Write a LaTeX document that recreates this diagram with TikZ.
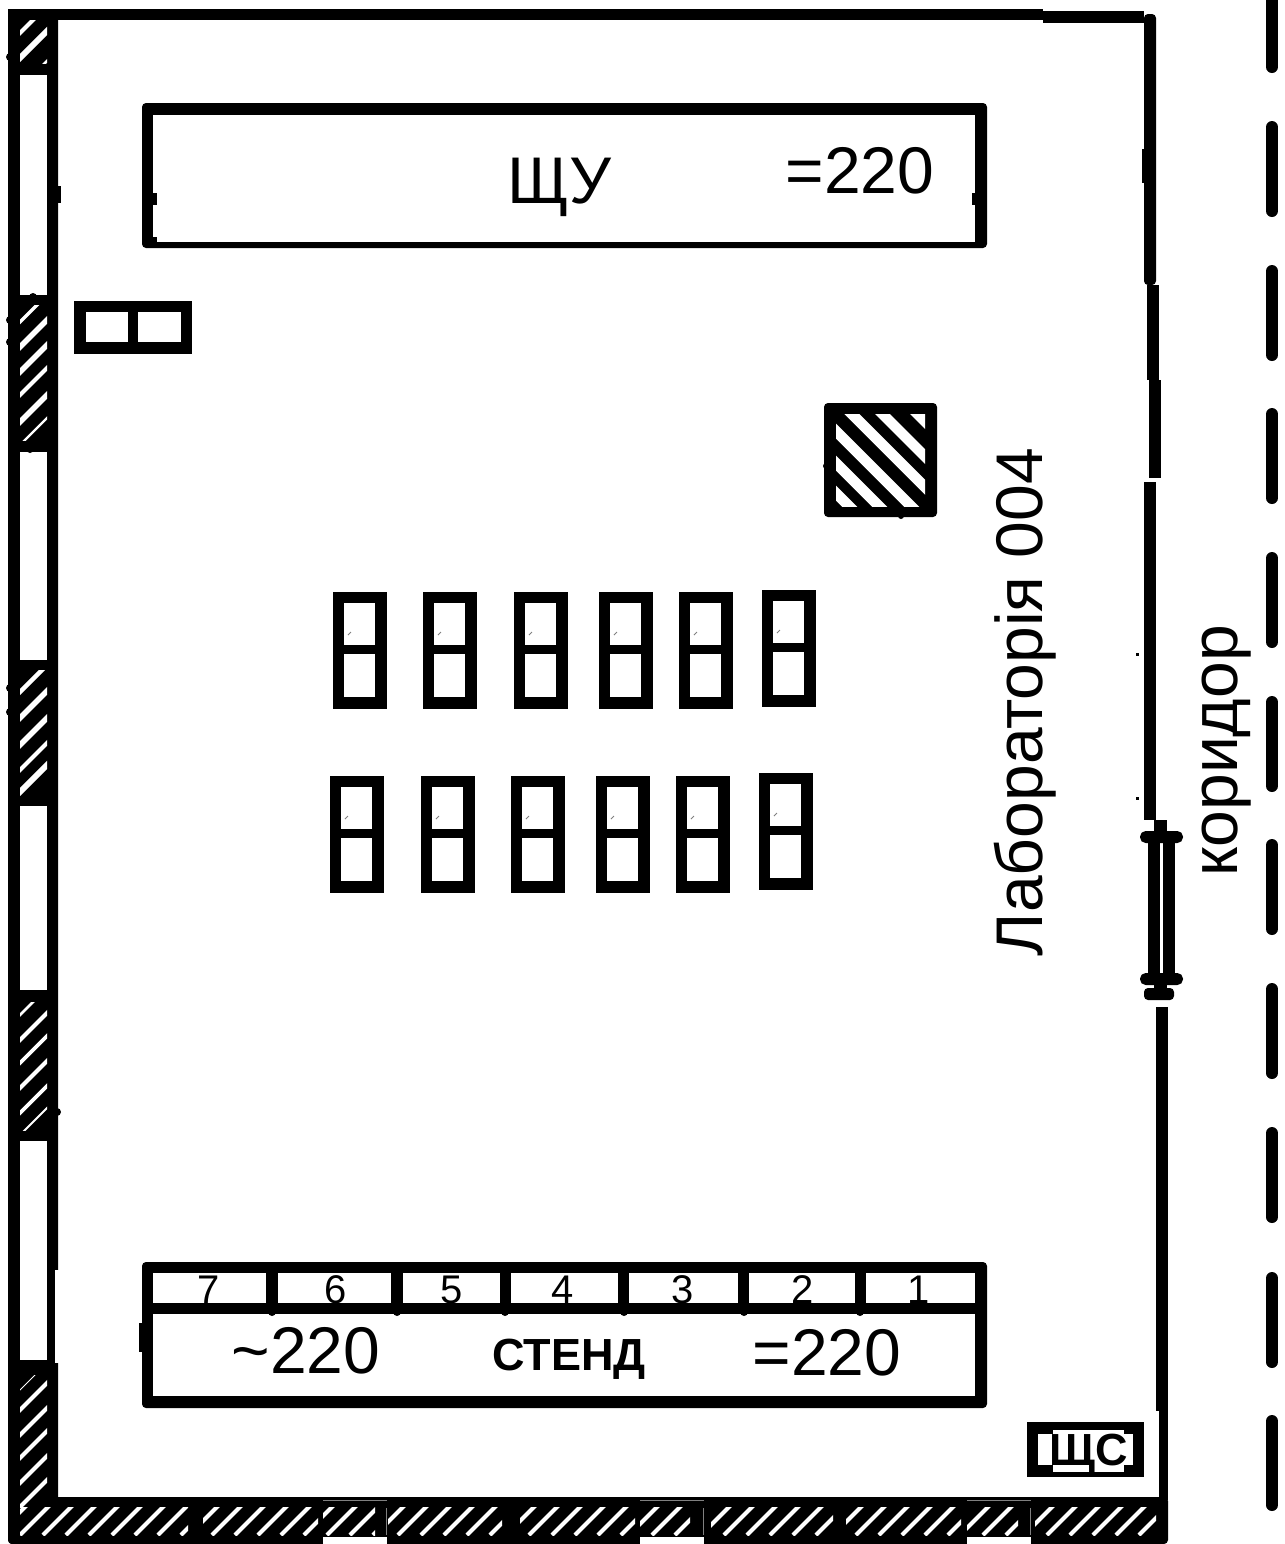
\documentclass[tikz,border=0pt]{standalone}
\usepackage{fontspec}
\setmainfont{Liberation Sans}
\newcommand{\wallhatch}[3]{%
  \begin{scope}
    \clip (20,#1) rectangle (47,#2);
    \foreach \s/\w in {#3} \draw[white, line width=\w pt] (0,\s) -- (80,\s-80);
  \end{scope}}
\newcommand{\floorhatch}[3]{%
  \begin{scope}
    \clip (#1,1507) rectangle (#2,1535);
    \foreach \n in {0,...,8} \draw[white, line width=2pt] (#3+23*\n,1535) -- (#3+23*\n+40,1495);
  \end{scope}}
\begin{document}
\begin{tikzpicture}[x=0.5pt,y=-0.5pt]
  \tikzstyle{solid} = [fill=black, rounded corners=2pt]
  \tikzstyle{gap} = [fill=white]
  \tikzstyle{big} = [inner sep=0pt, anchor=base, font=\fontsize{33}{33}\selectfont]
  \tikzstyle{cellnum} = [inner sep=0pt, anchor=base, font=\fontsize{20}{20}\selectfont]
  \tikzstyle{bold} = [inner sep=0pt, anchor=base, font=\bfseries\fontsize{22.5}{22.5}\selectfont]
  \useasboundingbox (0,0) rectangle (1285,1544);

  % outer walls
  \fill[solid] (8,9) rectangle (58,1544);
  \fill (8,9) rectangle (1043,20);
  \fill (1043,11) rectangle (1144,23);
  \fill[solid] (1144,14) rectangle (1156,285);
  \fill (1142,149) rectangle (1145,183);
  \fill (1147,285) rectangle (1159,380);
  \fill (1149,380) rectangle (1161,478);
  \fill (1144,482) rectangle (1156,820);
  \fill (1156,1007) rectangle (1168,1411);
  \fill (1159,1411) rectangle (1168,1500);
  \fill[solid] (8,1497) rectangle (1168,1544);

  % windows on the left
  \fill[gap] (20,75) rectangle (47,295);
  \fill[gap] (20,452) rectangle (47,660);
  \fill[gap] (20,806) rectangle (47,990);
  \fill[gap] (20,1141) rectangle (47,1360);
  \fill[gap] (55,1270) rectangle (59,1363);
  \fill (58,186) rectangle (61,203);
  \foreach \bx/\by in {10/57,10/320,10/342,33/297,30/449,10/688,10/712,57/1112}
    \fill (\bx,\by) circle (4);

  % left wall hatching
  \wallhatch{20}{63}{53/2,78/2.9,108/1.3}
  \wallhatch{305}{440}{342/1.6,367/2.7,392/2.7,415/2,442/2.7,465/1.1}
  \wallhatch{670}{795}{712/2.2,738/2.7,765/2.7,790/2,812/2.9}
  \wallhatch{1002}{1130}{1035/1.3,1060/2,1083/1.8,1108/2,1133/1.8,1155/0.9}
  \wallhatch{1375}{1507}{1410/0.4,1430/2,1455/2,1478/2,1503/2,1527/2}

  % floor hatching
  \floorhatch{20}{188}{-3}
  \floorhatch{203}{318}{189}
  \floorhatch{323}{375}{304}
  \floorhatch{388}{502}{375}
  \floorhatch{520}{635}{506}
  \floorhatch{640}{690}{629}
  \floorhatch{711}{833}{701}
  \floorhatch{846}{961}{833}
  \floorhatch{967}{1018}{960}
  \floorhatch{1035}{1156}{1024}
  \foreach \wx in {323,640,967} {
    \fill[gap] (\wx,1537) rectangle (\wx+64,1544);
    \draw[gray, line width=0.4pt] (\wx,1500) -- (\wx+64,1500);
    \draw[gray, line width=0.4pt] (\wx+63,1508) -- (\wx+63,1535);
  }

  % door
  \fill (1154,820) rectangle (1167,832);
  \fill[rounded corners=2.8pt] (1140,831) rectangle (1183,843);
  \fill (1148,843) rectangle (1160,973);
  \fill (1163,843) rectangle (1175,973);
  \fill[rounded corners=2.8pt] (1140,973) rectangle (1183,985);
  \fill (1154,985) rectangle (1167,988);
  \fill[solid] (1144,988) rectangle (1174,1000);
  \fill (1135.5,652.5) rectangle (1138.5,655.5);
  \fill (1135.5,796.5) rectangle (1138.5,799.5);

  % corridor line
  \draw[line width=6pt, line cap=round] (1272,-20) -- (1272,67);
  \foreach \dy in {127,271,414,558,702,845,989,1133,1278,1421}
    \draw[line width=6pt, line cap=round] (1272,\dy) -- (1272,\dy+84);

  % top panel
  \fill[solid] (142,103) rectangle (987,248);
  \fill[gap] (153,115) rectangle (975,242);
  \fill (153,193) rectangle (157,205);
  \fill (972,193) rectangle (975,205);
  \fill (153,237) rectangle (157,242);
  \node[big] (shu) at (559,203) {ЩУ};
  \node[big] (shuv) at (860,193) {=220};

  % small panel
  \fill (74,301) rectangle (192,354);
  \fill[gap] (86,312) rectangle (128,342);
  \fill[gap] (138,312) rectangle (181,342);

  % hatched box
  \fill[solid] (824,403) rectangle (937,517);
  \begin{scope}
    \clip (836,414) rectangle (925,506);
    \foreach \c in {-503.5,-468.5,-438,-405,-373,-343}
      \draw[white, line width=5.3pt] (800,800+\c) -- (960,960+\c);
  \end{scope}
  \fill (826,466) circle (3);
  \fill (901,516) circle (3);

  % desks
  \foreach \dx/\dy in {333/592,423/592,514/592,599/592,679/592,762/590,
                       330/776,421/776,511/776,596/776,676/776,759/773} {
    \fill (\dx,\dy) rectangle (\dx+54,\dy+117);
    \fill[gap] (\dx+11,\dy+11) rectangle (\dx+42,\dy+53);
    \fill[gap] (\dx+11,\dy+62) rectangle (\dx+42,\dy+105);
    \draw[gray, line width=0.4pt] (\dx+15,\dy+43) -- (\dx+18,\dy+40);
  }

  % stand
  \fill[solid] (142,1262) rectangle (987,1408);
  \fill[gap] (153,1314) rectangle (975,1396);
  \foreach \ca/\cb in {153/266,278/391,403/500,511/618,629/738,749/855,866/975}
    \fill[gap] (\ca,1273) rectangle (\cb,1303);
  \foreach \cx in {272,397,505,624,744,860}
    \fill (\cx,1312) circle (4);
  \fill (139,1323) rectangle (143,1352);
  \foreach \num/\nx in {7/209,6/336,5/452,4/563,3/683,2/803,1/919}
    \node[cellnum] (cell\num) at (\nx,1303) {\num};
  \node[big] (ac) at (306,1373) {\char"007E 220};
  \node[bold] (stand) at (569,1370) {СТЕНД};
  \node[big] (dc) at (827,1375) {=220};

  % switchboard
  \fill (1027,1422) rectangle (1144,1477);
  \fill[gap] (1038,1434) rectangle (1133,1465);
  \fill[gap] (1053,1430) rectangle (1124,1472);
  \node[bold] (shs) at (1089,1465) {ЩС};

  % room names
  \node[big, rotate=90] (lab) at (1042,702) {Лабораторія 004};
  \node[big, rotate=90] (corr) at (1237,751) {коридор};
\end{tikzpicture}
\end{document}
